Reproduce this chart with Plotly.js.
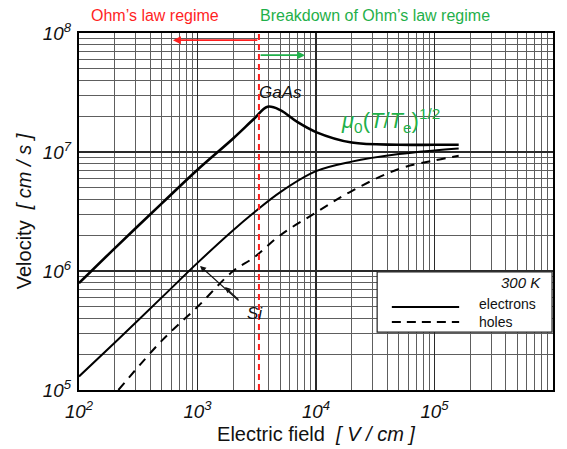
<!DOCTYPE html>
<html><head><meta charset="utf-8">
<script src="https://cdn.plot.ly/plotly-3.0.1.min.js"></script>
<style>html,body{margin:0;padding:0;background:#fff}#chart{width:567px;height:449px}</style>
</head><body><div id="chart"></div>
<script>
// Electric field [V/cm] and velocity [cm/s]
const gaasE = [100, 200, 500, 1000, 2000, 3000, 3900, 5000, 7000, 10000, 20000, 50000, 100000, 160000];
const gaasV = [7.9e5, 1.55e6, 3.7e6, 7.1e6, 1.3e7, 1.9e7, 2.4e7, 2.25e7, 1.78e7, 1.47e7, 1.2e7, 1.15e7, 1.15e7, 1.15e7];
const siElecE = [100, 200, 500, 1000, 2000, 3000, 5000, 10000, 20000, 50000, 100000, 160000];
const siElecV = [1.3e5, 2.5e5, 6.0e5, 1.17e6, 2.2e6, 3.1e6, 4.6e6, 6.9e6, 8.3e6, 9.6e6, 1.03e7, 1.07e7];
const siHoleE = [215, 500, 1000, 2000, 3000, 5000, 10000, 20000, 50000, 100000, 160000];
const siHoleV = [1.0e5, 2.6e5, 5.0e5, 1.0e6, 1.3e6, 2.0e6, 3.1e6, 4.7e6, 7.2e6, 8.5e6, 9.3e6];
const boundaryE = 3300;

const RED = '#ff1f1f', GREEN = '#1fb04a';
const hand = {family: 'Liberation Sans, Arial, sans-serif', style: 'italic', color: '#111'};

const traces = [
  {x: gaasE, y: gaasV, mode: 'lines', line: {color: '#000', width: 2.6, shape: 'spline'}, name: 'GaAs electrons', showlegend: false},
  {x: siElecE, y: siElecV, mode: 'lines', line: {color: '#000', width: 2, shape: 'spline'}, name: 'Si electrons', showlegend: false},
  {x: siHoleE, y: siHoleV, mode: 'lines', line: {color: '#000', width: 2, dash: '9px,7px', shape: 'spline'}, name: 'Si holes', showlegend: false}
];

function ax(extra) {
  return Object.assign({
    type: 'log', dtick: 1, exponentformat: 'power', showexponent: 'all',
    showgrid: true, gridcolor: '#2a2a2a', gridwidth: 1.2,
    minor: {dtick: 'D1', showgrid: true, gridcolor: '#5e5e5e', gridwidth: 1},
    showline: true, mirror: true, linecolor: '#000', linewidth: 2,
    ticks: '', zeroline: false,
    tickfont: Object.assign({size: 15}, hand)
  }, extra);
}

function txt(x, y, text, font, extra) {
  return Object.assign({xref: 'paper', yref: 'paper', x: x, y: y, xanchor: 'center', yanchor: 'middle',
    text: text, showarrow: false, font: font}, extra || {});
}
function arrow(x, y, axp, ayp, color, w) {
  return {xref: 'paper', yref: 'paper', x: x, y: y, ax: axp, ay: ayp, text: '', showarrow: true,
    arrowhead: 2, arrowsize: 1, arrowwidth: w, arrowcolor: color, standoff: 0};
}

const layout = {
  width: 567, height: 449,
  margin: {l: 79, r: 14, t: 33, b: 59},
  paper_bgcolor: '#fff', plot_bgcolor: '#fff',
  font: {family: 'Liberation Sans, Arial, sans-serif', color: '#111'},
  showlegend: false,
  xaxis: ax({range: [2, 6], ticklabelstandoff: 4,
    title: {text: 'Electric field  <i>[ V / cm ]</i>', font: {size: 20, color: '#111'}, standoff: 6}}),
  yaxis: ax({range: [5, 8], ticklabelstandoff: 3,
    title: {text: 'Velocity  <i>[ cm / s ]</i>', font: {size: 20, color: '#111'}, standoff: 6}}),
  shapes: [
    {type: 'line', xref: 'x', yref: 'paper', x0: boundaryE, x1: boundaryE, y0: 0, y1: 1,
     line: {color: RED, width: 2, dash: '6px,4px'}},
    {type: 'rect', xref: 'paper', yref: 'paper', x0: 0.629, x1: 0.998, y0: 0.162, y1: 0.331,
     fillcolor: '#fff', line: {color: '#222', width: 1.2}},
    {type: 'line', xref: 'paper', yref: 'paper', x0: 0.660, x1: 0.802, y0: 0.2325, y1: 0.2325,
     line: {color: '#000', width: 2.2}},
    {type: 'line', xref: 'paper', yref: 'paper', x0: 0.660, x1: 0.802, y0: 0.1905, y1: 0.1905,
     line: {color: '#000', width: 2.2, dash: '9px,6px'}}
  ],
  annotations: [
    txt(0.160, 1.050, 'Ohm’s law regime', {size: 16, color: RED}),
    txt(0.624, 1.050, 'Breakdown of Ohm’s law regime', {size: 16, color: GREEN}),
    arrow(0.198, 0.980, 86, 0, RED, 1.6),
    arrow(0.477, 0.938, -46, 0, GREEN, 1.6),
    txt(0.426, 0.832, 'GaAs', Object.assign({}, hand, {size: 17})),
    txt(0.658, 0.756, '<i>μ</i><sub>0</sub>(<i>T</i>/<i>T</i><sub>e</sub>)<sup>1/2</sup>', {size: 22, color: GREEN}),
    arrow(0.2553, 0.3473, 40, 36, '#111', 1.2),
    arrow(0.308, 0.2885, 15, 14, '#111', 1.2),
    txt(0.372, 0.213, 'Si', Object.assign({}, hand, {size: 17})),
    txt(0.932, 0.3025, '300 K', Object.assign({}, hand, {size: 15})),
    txt(0.840, 0.241, 'electrons', {size: 14, color: '#111'}, {xanchor: 'left'}),
    txt(0.840, 0.1905, 'holes', {size: 14, color: '#111'}, {xanchor: 'left'})
  ]
};

Plotly.newPlot('chart', traces, layout, {displayModeBar: false, staticPlot: true});
</script></body></html>
